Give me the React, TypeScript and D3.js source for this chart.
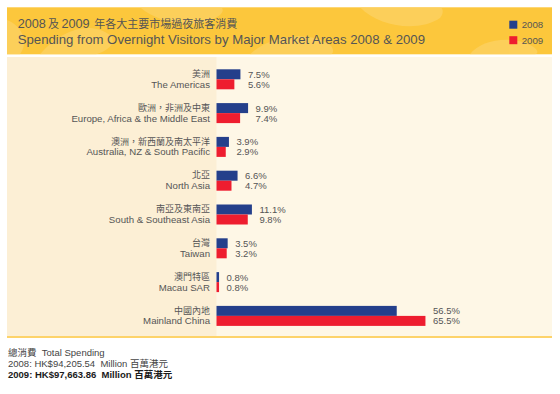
import React from "react";
import * as d3 from "d3";

const categoriesZh = ["美洲", "歐洲，非洲及中東", "澳洲，新西蘭及南太平洋", "北亞", "南亞及東南亞", "台灣", "澳門特區", "中國內地"];
const categoriesEn = ["The Americas", "Europe, Africa & the Middle East", "Australia, NZ & South Pacific", "North Asia", "South & Southeast Asia", "Taiwan", "Macau SAR", "Mainland China"];
const values2008 = [7.5, 9.9, 3.9, 6.6, 11.1, 3.5, 0.8, 56.5];
const values2009 = [5.6, 7.4, 2.9, 4.7, 9.8, 3.2, 0.8, 65.5];
const years = ["2008", "2009"];
const titleEn = "Spending from Overnight Visitors by Major Market Areas 2008 & 2009";
const footer = [
  "總消費  Total Spending",
  "2008: HK$94,205.54  Million 百萬港元",
  "2009: HK$97,663.86  Million 百萬港元",
];

const W = 560, H = 394;
const BLUE = "#243f8b";
const RED = "#ee1d2f";
const FONT = "'Liberation Sans', Arial, 'Noto Sans CJK TC', sans-serif";
const CJK = "'Noto Sans CJK TC', 'Liberation Sans', sans-serif";
const TEXT = "#555";

export default function App() {
  const x0 = 216.5;
  const x = d3.scaleLinear().domain([0, 100]).range([0, 319]);
  const y = d3
    .scaleBand<string>()
    .domain(categoriesEn)
    .range([69.3, 69.3 + 7 * 33.8 + 20])
    .paddingInner(1 - 20 / 33.8)
    .paddingOuter(0);
  const yi = d3.scaleBand<string>().domain(years).range([0, y.bandwidth()]);
  const colors = d3.scaleOrdinal<string, string>().domain(years).range([BLUE, RED]);

  return (
    <svg width={W} height={H} style={{ position: "absolute", left: 0, top: 0, fontFamily: FONT }}>
      <rect x={0} y={0} width={W} height={H} fill="#fff" />
      {/* header */}
      <rect x={7} y={7.3} width={545} height={47} fill="#fcc73c" />
      <g fill="#fdd56e" opacity={0.6}>
        <path d="M40,54.3 C60,30 90,20 110,35 C120,45 100,54 95,54.3 Z" />
        <path d="M140,7.3 C160,25 200,30 220,15 C225,10 222,7.3 220,7.3 Z" />
        <path d="M250,54.3 C270,35 310,30 330,45 C335,50 333,54.3 330,54.3 Z" />
        <path d="M360,7.3 C380,28 420,32 440,18 C445,12 442,7.3 440,7.3 Z" />
        <path d="M470,54.3 C480,40 510,35 530,45 C540,50 538,54.3 535,54.3 Z" />
        <path d="M7,20 C20,25 30,40 20,54.3 L7,54.3 Z" />
      </g>
      <text x={17.7} y={28.3} fill={TEXT}>
        <tspan fontSize={12.7}>2008</tspan>
        <tspan fontSize={11} fontFamily={CJK} dx={2}>及</tspan>
        <tspan fontSize={12.7} dx={2.5}>2009</tspan>
        <tspan fontSize={11} fontFamily={CJK} dx={4.5}>年各大主要市場過夜旅客消費</tspan>
      </text>
      <text x={17.7} y={44.3} fontSize={13.2} fill={TEXT}>{titleEn}</text>
      {years.map((yr, i) => (
        <g key={yr}>
          <rect x={509.3} y={20.7 + i * 15.5} width={8} height={8} fill={colors(yr)} />
          <text x={521.7} y={28.4 + i * 15.7} fontSize={9.7} fill={TEXT}>{yr}</text>
        </g>
      ))}
      {/* body */}
      <rect x={7} y={57} width={545} height={280} fill="#fef7e6" />
      <rect x={7} y={57} width={209.5} height={280} fill="#fcefd5" />
      <rect x={7} y={336} width={545} height={2} fill="#fdd36a" />
      {categoriesEn.map((cat, i) => {
        const gy = y(cat)!;
        const vals = [values2008[i], values2009[i]];
        const maxEnd = x0 + x(Math.max(...vals));
        return (
          <g key={cat}>
            <text x={210} y={gy + 7.6} fontSize={9} textAnchor="end" fill={TEXT} fontFamily={CJK}>{categoriesZh[i]}</text>
            <text x={210} y={gy + 18.4} fontSize={9.65} textAnchor="end" fill={TEXT}>{cat}</text>
            {years.map((yr, j) => (
              <g key={yr}>
                <rect x={x0} y={gy + yi(yr)!} width={x(vals[j])} height={yi.bandwidth()} fill={colors(yr)} />
                <text x={maxEnd + 7.5} y={gy + yi(yr)! + 8.4} fontSize={9.5} fill={TEXT}>{vals[j].toFixed(1)}%</text>
              </g>
            ))}
          </g>
        );
      })}
      {/* footer */}
      {footer.map((t, i) => (
        <text key={i} x={8} y={356 + i * 10.9} fontSize={9.5} style={{ whiteSpace: "pre" }} fill={i === 2 ? "#1a1a1a" : "#444"} fontWeight={i === 2 ? "bold" : "normal"}>{t}</text>
      ))}
    </svg>
  );
}
